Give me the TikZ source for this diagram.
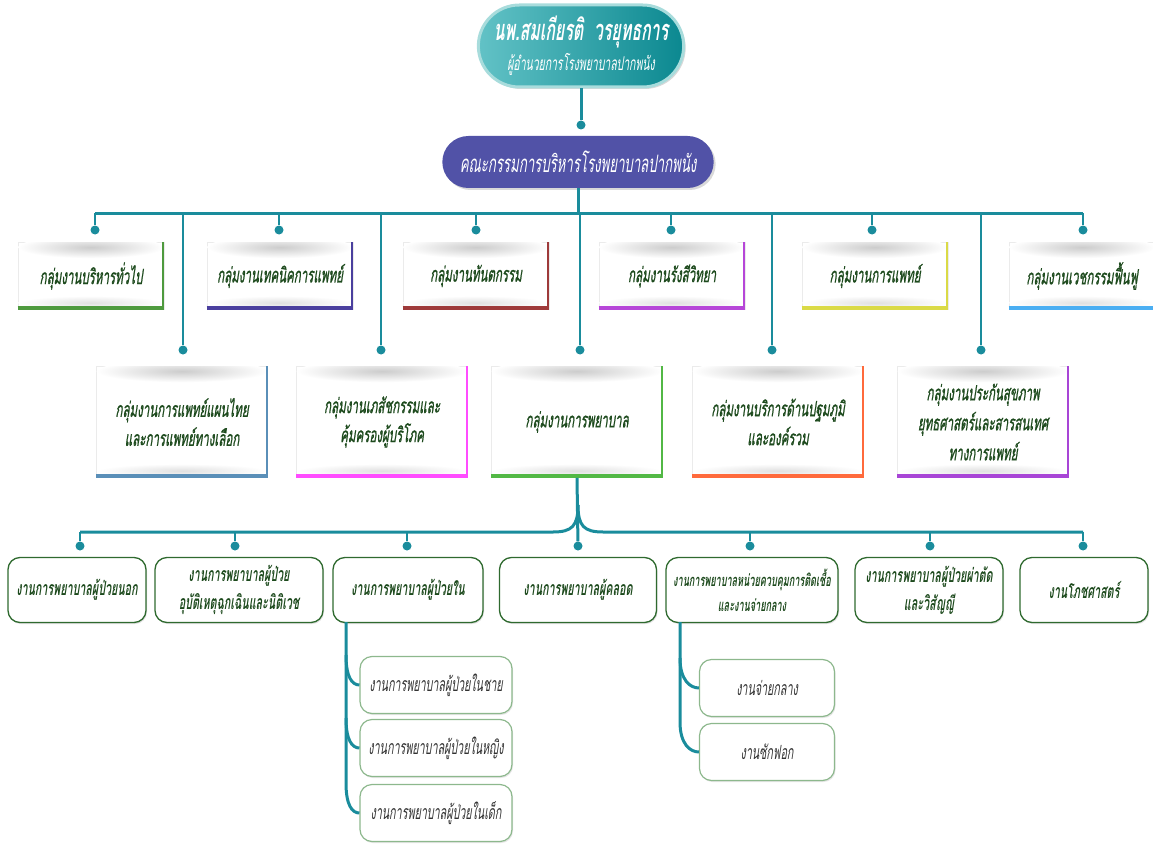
\documentclass[tikz,border=0pt]{standalone}
\usepackage{fontspec}
\newfontfamily\thai[Script=Thai,FakeSlant=0.15,FakeStretch=0.55]{Loma}
\newfontfamily\thaim[Script=Thai,FakeSlant=0.15,FakeStretch=0.55,FakeBold=0.8]{Loma}
\usetikzlibrary{shadows,calc,shapes.misc}
\definecolor{tline}{HTML}{1A8C9C}
\definecolor{topL}{HTML}{62C2C6}
\definecolor{topR}{HTML}{0B8890}
\definecolor{topB}{HTML}{A8DCDC}
\definecolor{comm}{HTML}{5152A7}
\definecolor{txtg}{HTML}{1D4A1D}
\definecolor{rthree}{HTML}{2F6A2F}
\definecolor{subb}{HTML}{8DB88D}
\definecolor{cA}{HTML}{4E9A3E}
\definecolor{cB}{HTML}{4A3F9E}
\definecolor{cC}{HTML}{9E3A3A}
\definecolor{cD}{HTML}{B646D8}
\definecolor{cE}{HTML}{DADA46}
\definecolor{cF}{HTML}{4AAEF2}
\definecolor{cG}{HTML}{5A8FB8}
\definecolor{cH}{HTML}{FF4CFF}
\definecolor{cI}{HTML}{52B845}
\definecolor{cJ}{HTML}{FF6A3C}
\definecolor{cK}{HTML}{A845D6}
\tikzset{
  conn/.style={draw=tline,line width=3},
  dot/.style={circle,fill=tline,inner sep=0,minimum size=9},
  pbase/.style={rectangle,fill=white,draw=black!8,line width=0.6,inner sep=0},
  ptext/.style={text=txtg,font=\thaim\fontsize{21}{29}\selectfont,align=center,inner sep=1},
  rbox/.style={rectangle,rounded corners=12,draw=rthree,line width=1.3,fill=white,
    drop shadow={opacity=0.25,shadow xshift=1pt,shadow yshift=-1.5pt},
    text=txtg,font=\thai\bfseries\fontsize{19.5}{28}\selectfont,align=center,inner sep=2,minimum height=65},
  sbox/.style={rectangle,rounded corners=12,draw=subb,line width=1.2,fill=white,
    drop shadow={opacity=0.2,shadow xshift=1pt,shadow yshift=-1.5pt},
    text=black!80,font=\thai\fontsize{19.5}{22}\selectfont,align=center,inner sep=2,minimum height=57}
}
\newcommand\papbox[7]{%
  \node[pbase,minimum width=#4,minimum height=#5] (#1) at (#2,#3) {};
  \begin{scope}
    \clip (#1.south west) rectangle (#1.north east);
    \shade[inner color=black!20,outer color=white] ($(#1.north)+(0,5)$) ellipse ({0.5*#4} and 11);
    \shade[inner color=black!12,outer color=white] ($(#1.south)+(0,-7)$) ellipse ({0.5*#4} and 7);
  \end{scope}
  \draw[draw=#6,line width=4] ($(#1.south west)+(0,-2)$) -- ($(#1.south east)+(0,-2)$);
  \draw[draw=#6,line width=2] ($(#1.south east)+(-1,0)$) -- ($(#1.north east)+(-1,0)$);
  \node[ptext] (#1t) at (#1.center) {#7};
}
\begin{document}
\begin{tikzpicture}[x=1pt,y=-1pt]
\useasboundingbox (0,0) rectangle (1153,845);

% top node
\node[rounded rectangle,minimum width=212,minimum height=82,draw=topB,line width=3,
  left color=topL,right color=topR,text=white,align=center,
  drop shadow={opacity=0.3,shadow xshift=2pt,shadow yshift=-2pt}] (dir) at (581,46)
  {{\thai\bfseries\fontsize{29}{32}\selectfont นพ.สมเกียรติ\ \ วรยุทธการ}\\[4pt]
   {\thai\fontsize{19}{20}\selectfont ผู้อำนวยการโรงพยาบาลปากพนัง}};
\node[dot] (d0) at (581,125) {};
\draw[conn] (dir.south) -- (d0);

\node[rounded rectangle,minimum width=278,minimum height=52,fill=comm,text=white,
  drop shadow={opacity=0.3,shadow xshift=2pt,shadow yshift=-2pt},
  font=\thai\fontsize{24}{26}\selectfont] (comm) at (578,162) {คณะกรรมการบริหารโรงพยาบาลปากพนัง};

% bus 1
\coordinate (busL) at (95,213);
\coordinate (busR) at (1083,213);
\draw[conn] (comm.south) -- (comm.south |- busL);
\draw[conn] (busL) -- (busR);

% row 1
\papbox{a1}{91}{276}{146}{67}{cA}{กลุ่มงานบริหารทั่วไป}
\papbox{a2}{280}{276}{146}{67}{cB}{กลุ่มงานเทคนิคการแพทย์}
\papbox{a3}{476}{276}{146}{67}{cC}{กลุ่มงานทันตกรรม}
\papbox{a4}{672}{276}{146}{67}{cD}{กลุ่มงานรังสีวิทยา}
\papbox{a5}{875}{276}{146}{67}{cE}{กลุ่มงานการแพทย์}
\papbox{a6}{1082}{276}{146}{67}{cF}{กลุ่มงานเวชกรรมฟื้นฟู}
\foreach \n/\x in {1/95,2/279,3/476,4/671,5/872,6/1083}{
  \node[dot] (da\n) at (\x,230) {};
  \draw[conn,line width=2] (da\n |- busL) -- (da\n);
}

% row 2
\papbox{b1}{182}{422}{171}{111}{cG}{กลุ่มงานการแพทย์แผนไทย\\และการแพทย์ทางเลือก}
\papbox{b2}{382}{422}{171}{111}{cH}{กลุ่มงานเภสัชกรรมและ\\คุ้มครองผู้บริโภค}
\papbox{b3}{577}{422}{171}{111}{cI}{กลุ่มงานการพยาบาล}
\papbox{b4}{778}{422}{171}{111}{cJ}{กลุ่มงานบริการด้านปฐมภูมิ\\และองค์รวม}
\papbox{b5}{983}{422}{171}{111}{cK}{กลุ่มงานประกันสุขภาพ\\[1pt]ยุทธศาสตร์และสารสนเทศ\\[1pt]ทางการแพทย์}
\foreach \n/\x in {1/183,2/381,3/580,4/772,5/981}{
  \node[dot] (db\n) at (\x,350) {};
  \draw[conn,line width=2] (db\n |- busL) -- (db\n);
}

% bus 3 with brace junction
\coordinate (cL) at (80,532);
\coordinate (cR) at (1083,532);
\coordinate (jL) at (553,532);
\coordinate (jR) at (603,532);
\coordinate (jT) at (578,505);
\draw[conn] (cL) -- (jL) .. controls (572,532) and (578,526) .. (jT);
\draw[conn] (cR) -- (jR) .. controls (584,532) and (578,526) .. (jT);
\node[dot] (dc4) at (578,546) {};
\draw[conn] (b3.south) -- (dc4);

% row 3
\node[rbox,minimum width=138] (c1) at (77,590) {งานการพยาบาลผู้ป่วยนอก};
\node[rbox,minimum width=168] (c2) at (239,590) {งานการพยาบาลผู้ป่วย\\อุบัติเหตุฉุกเฉินและนิติเวช};
\node[rbox,minimum width=150] (c3) at (408,590) {งานการพยาบาลผู้ป่วยใน};
\node[rbox,minimum width=157] (c4) at (578,590) {งานการพยาบาลผู้คลอด};
\node[rbox,minimum width=172,font=\thai\bfseries\fontsize{16.5}{25}\selectfont] (c5) at (752,590) {งานการพยาบาลหน่วยควบคุมการติดเชื้อ\\และงานจ่ายกลาง};
\node[rbox,minimum width=148] (c6) at (929,590) {งานการพยาบาลผู้ป่วยผ่าตัด\\และวิสัญญี};
\node[rbox,minimum width=128] (c7) at (1084,590) {งานโภชศาสตร์};
\foreach \n/\x in {1/80,2/235,3/407,5/750,6/930,7/1083}{
  \node[dot] (dc\n) at (\x,546) {};
  \draw[conn,line width=2] (dc\n |- cL) -- (dc\n);
}

% sub boxes under c3
\node[sbox,minimum width=152] (s1) at (436,685) {งานการพยาบาลผู้ป่วยในชาย};
\node[sbox,minimum width=152] (s2) at (436,748) {งานการพยาบาลผู้ป่วยในหญิง};
\node[sbox,minimum width=152] (s3) at (436,813) {งานการพยาบาลผู้ป่วยในเด็ก};
\coordinate (t0) at (346,622);
\coordinate (t1) at (346,655);
\coordinate (t2) at (346,718);
\coordinate (t3) at (346,783);
\draw[conn] (t0) -- (t3) .. controls (346,805) and (352,813) .. (s3.west);
\draw[conn] (t1) .. controls (346,677) and (352,685) .. (s1.west);
\draw[conn] (t2) .. controls (346,740) and (352,748) .. (s2.west);

% sub boxes under c5
\node[sbox,minimum width=135] (u1) at (767,688) {งานจ่ายกลาง};
\node[sbox,minimum width=135] (u2) at (767,752) {งานซักฟอก};
\coordinate (v0) at (680,622);
\coordinate (v1) at (680,658);
\coordinate (v2) at (680,722);
\draw[conn] (v0) -- (v2) .. controls (680,744) and (690,752) .. (u2.west);
\draw[conn] (v1) .. controls (680,680) and (690,688) .. (u1.west);
\end{tikzpicture}
\end{document}
